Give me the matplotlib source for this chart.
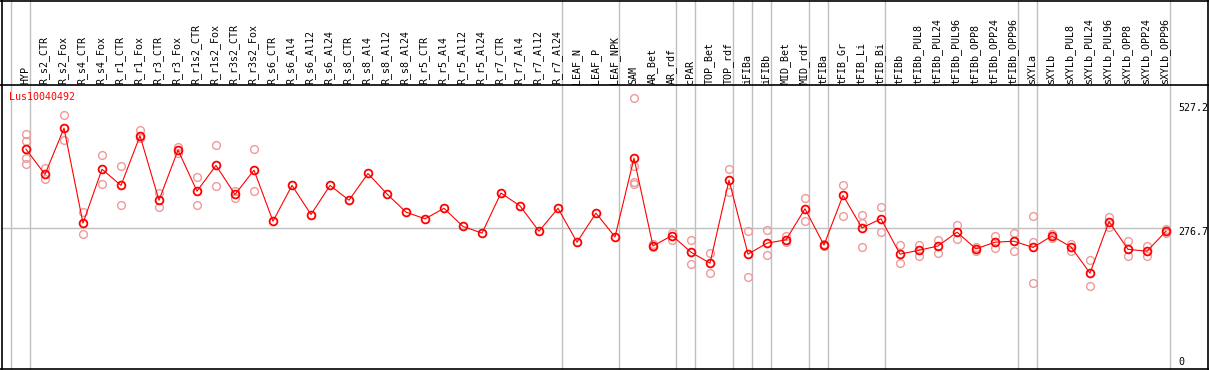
import matplotlib
matplotlib.use("Agg")
import matplotlib.pyplot as plt
from matplotlib.lines import Line2D

categories = ["HYP", "R_s2_CTR", "R_s2_Fox", "R_s4_CTR", "R_s4_Fox", "R_r1_CTR", "R_r1_Fox",
              "R_r3_CTR", "R_r3_Fox", "R_r1s2_CTR", "R_r1s2_Fox", "R_r3s2_CTR", "R_r3s2_Fox",
              "R_s6_CTR", "R_s6_Al4", "R_s6_Al12", "R_s6_Al24", "R_s8_CTR", "R_s8_Al4",
              "R_s8_Al12", "R_s8_Al24", "R_r5_CTR", "R_r5_Al4", "R_r5_Al12", "R_r5_Al24",
              "R_r7_CTR", "R_r7_Al4", "R_r7_Al12", "R_r7_Al24", "LEAF_N", "LEAF_P", "LEAF_NPK",
              "SAM", "AR_Bet", "AR_rdf", "cPAR", "TOP_Bet", "TOP_rdf", "iFIBa", "iFIBb",
              "MID_Bet", "MID_rdf", "tFIBa", "tFIB_Gr", "tFIB_Li", "tFIB_Bi", "tFIBb",
              "tFIBb_PUL8", "tFIBb_PUL24", "tFIBb_PUL96", "tFIBb_OPP8", "tFIBb_OPP24",
              "tFIBb_OPP96", "sXYLa", "sXYLb", "sXYLb_PUL8", "sXYLb_PUL24", "sXYLb_PUL96",
              "sXYLb_OPP8", "sXYLb_OPP24", "sXYLb_OPP96"]

means = [442, 389, 486, 287, 400, 366, 470, 335, 440, 354, 408, 347, 398,
         291, 366, 305, 366, 335, 391, 348, 310, 296, 318, 280, 266, 350, 323, 270, 318,
         247, 308, 258, 423, 239, 261, 226, 203, 377, 222, 245, 252, 317, 241, 345, 277,
         296, 222, 230, 239, 268, 233, 247, 249, 236, 260, 237, 182, 290, 232, 228, 270]

replicates = [[473, 459, 423, 411], [402, 379], [514, 461], [311, 264], [429, 370],
              [406, 324], [482, 465], [351, 320], [446, 433], [384, 324], [450, 364],
              [354, 340], [442, 354],
              [], [], [], [], [], [], [], [], [], [], [], [], [], [], [], [], [], [], [],
              [549, 407, 374, 368], [243, 237], [267, 252], [251, 201], [224, 182],
              [400, 352], [270, 173], [273, 220], [259, 247], [340, 291], [243, 239],
              [366, 302], [305, 288, 236], [321, 268], [241, 203], [242, 219], [252, 224],
              [282, 254], [237, 229], [259, 235], [266, 229], [302, 248, 161], [264, 256],
              [243, 228], [209, 156], [300, 279], [250, 217], [238, 218], [275, 267]]

group_ends = [-1, 0, 28, 31, 34, 35, 37, 38, 39, 41, 42, 45, 52, 53, 60]
ref_value = 276.7
axis_labels = ["527.2", "276.7", "0"]
axis_values = [527.2, 276.7, 0]
title = "Lus10040492"

W, H = 1209, 370
fig = plt.figure(figsize=(W / 100, H / 100), dpi=100)
ax = fig.add_axes([0, 0, 1, 1])
ax.set_axis_off()

# pixel mapping: x = 26 + 19*j ; y_from_top = 360 - 0.477*v
ax.set_xlim((0 - 26) / 19, (W - 26) / 19)
ax.set_ylim((360 - H) / 0.477, 360 / 0.477)

font = dict(family="DejaVu Sans Mono", size=7.2)
grid_c = "#c0c0c0"

for g in group_ends:
    ax.axvline(g + 0.23, color=grid_c, lw=1.0, zorder=1)

ax.hlines(ref_value, (1 - 26) / 19, 60.23, color=grid_c, lw=1.0, zorder=1)

xs = list(range(len(categories)))
for j, reps in enumerate(replicates):
    if reps:
        ax.plot([j] * len(reps), reps, linestyle="none", marker="o", ms=5.6,
                mfc="none", mec="#ee9a9a", mew=1.0, zorder=2)
ax.plot(xs, means, color="red", lw=0.8, zorder=3)
ax.plot(xs, means, linestyle="none", marker="o", ms=5.6, mfc="none", mec="red",
        mew=1.3, zorder=4)

# category labels (header)
header_v = (360 - 83.5) / 0.477
for j, lab in enumerate(categories):
    ax.text(j - 0.05, header_v, lab, rotation=90, ha="center", va="bottom",
            color="black", **font)

ax.text((9.5 - 26) / 19, (360 - 97) / 0.477, title, ha="left", va="center",
        color="red", **font)

offs = [1, -3.5, -2]
for lab, v, o in zip(axis_labels, axis_values, offs):
    ax.annotate(lab, xy=((1178 - 26) / 19, v), xytext=(0, o), textcoords="offset pixels",
                ha="left", va="center", color="black", **font)

# frame and header line
def fl(x0, y0, x1, y1, lw=1.2):
    fig.add_artist(Line2D([x0 / W, x1 / W], [1 - y0 / H, 1 - y1 / H], color="black",
                          lw=lw, transform=fig.transFigure, zorder=10))

fl(0, 0.6, W, 0.6)
fl(1.5, 0, 1.5, H)
fl(1207.5, 0, 1207.5, H)
fl(0, 369, W, 369)
fl(0, 85, W, 85)

fig.savefig("out.png", dpi=100)
